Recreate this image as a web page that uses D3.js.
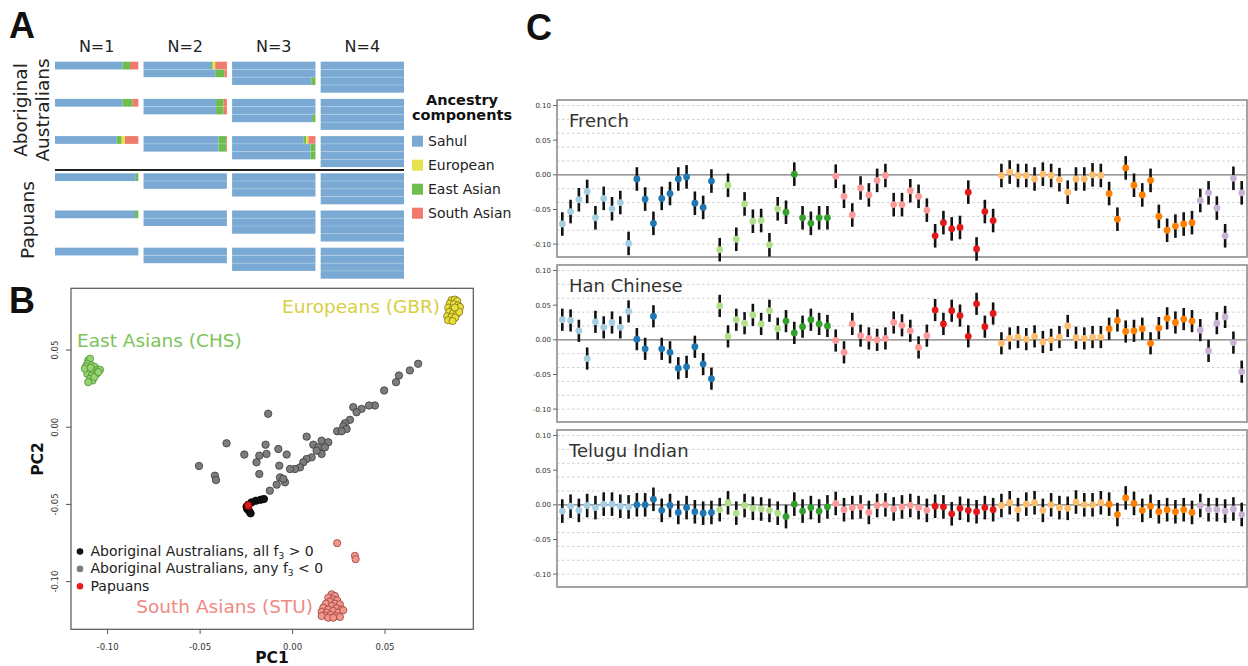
<!DOCTYPE html>
<html><head><meta charset="utf-8">
<script src="https://cdn.jsdelivr.net/npm/d3@7"></script>
<style>body{margin:0;background:#fff;} svg{display:block;font-family:"DejaVu Sans",sans-serif;}</style>
</head><body><svg id="c" width="1248" height="666"></svg>
<script>
// ---------------- Panel A data ----------------
const nLabels = ["N=1","N=2","N=3","N=4"];
const aRowNames = ["AA1","AA2","AA3","PNG1","PNG2","PNG3"];
const ancestryComponents = ["Sahul","European","East Asian","South Asian"];
const ancestryColors = ["#7aaad3","#e6e24c","#6dbe4f","#f07a6c"];
const stackOrder = [0,2,1,3];
// proportions per bar: [Sahul, European, East Asian, South Asian]
const admixAA1 = [
  [[0.81,0.00,0.09,0.10]],
  [[0.81,0.03,0.02,0.14],[0.86,0.00,0.11,0.03]],
  [[1,0,0,0],[1,0,0,0],[0.95,0,0.05,0]],
  [[1,0,0,0],[1,0,0,0],[1,0,0,0],[1,0,0,0]]
];
const admixAA2 = [
  [[0.81,0.00,0.12,0.07]],
  [[0.87,0.00,0.09,0.04],[0.87,0.00,0.09,0.04]],
  [[1,0,0,0],[1,0,0,0],[0.96,0,0.04,0]],
  [[1,0,0,0],[1,0,0,0],[1,0,0,0],[1,0,0,0]]
];
const admixAA3 = [
  [[0.74,0.04,0.06,0.16]],
  [[0.90,0.00,0.09,0.01],[0.90,0.00,0.09,0.01]],
  [[0.86,0.025,0.03,0.085],[0.94,0,0.06,0],[0.94,0,0.06,0]],
  [[1,0,0,0],[1,0,0,0],[1,0,0,0],[1,0,0,0]]
];
const admixPNG1 = [
  [[0.97,0,0.03,0]],
  [[1,0,0,0],[1,0,0,0]],
  [[1,0,0,0],[1,0,0,0],[1,0,0,0]],
  [[1,0,0,0],[1,0,0,0],[1,0,0,0],[1,0,0,0]]
];
const admixPNG2 = [
  [[0.96,0,0.04,0]],
  [[1,0,0,0],[1,0,0,0]],
  [[1,0,0,0],[1,0,0,0],[1,0,0,0]],
  [[1,0,0,0],[1,0,0,0],[1,0,0,0],[1,0,0,0]]
];
const admixPNG3 = [
  [[1,0,0,0]],
  [[1,0,0,0],[1,0,0,0]],
  [[1,0,0,0],[1,0,0,0],[1,0,0,0]],
  [[1,0,0,0],[1,0,0,0],[1,0,0,0],[1,0,0,0]]
];
const admixRows = [admixAA1, admixAA2, admixAA3, admixPNG1, admixPNG2, admixPNG3];

// ---------------- Panel B data ----------------
const grayPC1 = [0.0679,0.0634,0.0575,0.0559,0.0495,0.0445,0.0413,0.0373,0.0328,0.0346,0.0310,0.0283,0.0274,0.0292,0.0241,0.0265,0.0076,0.0157,0.0193,0.0112,0.0139,0.0175,0.0157,0.0130,0.0103,0.0076,0.0058,0.0040,0.0013,-0.0014,-0.0032,-0.0077,-0.0072,-0.0132,-0.0146,-0.0141,-0.0180,-0.0195,-0.0180,-0.0261,-0.0357,-0.0506,-0.0420,-0.0414,-0.0068,-0.0041,-0.0086,-0.0123,-0.0050];
const grayPC2 = [0.0411,0.0368,0.0335,0.0292,0.0238,0.0141,0.0141,0.0119,0.0130,0.0097,0.0048,0.0026,0.0006,-0.0011,-0.0026,-0.0026,-0.0061,-0.0087,-0.0097,-0.0113,-0.0130,-0.0130,-0.0173,-0.0152,-0.0195,-0.0206,-0.0227,-0.0260,-0.0271,-0.0271,-0.0177,-0.0141,-0.0249,0.0087,-0.0113,-0.0173,-0.0184,-0.0227,-0.0303,-0.0177,-0.0104,-0.0251,-0.0314,-0.0342,-0.0325,-0.0357,-0.0372,-0.0411,-0.0335];
const blackPC1 = [-0.0198,-0.0173,-0.0155,-0.0222,-0.0240,-0.0245,-0.0234,-0.0227,-0.0249];
const blackPC2 = [-0.0476,-0.0470,-0.0465,-0.0487,-0.0502,-0.0530,-0.0545,-0.0558,-0.0515];
const papuanPC1 = [-0.0238,-0.0240];
const papuanPC2 = [-0.0511,-0.0505];
const chsPC1 = [-0.1105,-0.1095,-0.1110,-0.1086,-0.1117,-0.1068,-0.1056,-0.1041,-0.1099,-0.1077,-0.1110,-0.1086,-0.1059,-0.1095,-0.1081,-0.1105,-0.1072,-0.1123,-0.1092,-0.1050];
const chsPC2 = [0.0433,0.0444,0.0411,0.0400,0.0394,0.0390,0.0372,0.0372,0.0368,0.0357,0.0346,0.0335,0.0346,0.0314,0.0303,0.0292,0.0325,0.0379,0.0385,0.0357];
const gbrPC1 = [0.0859,0.0877,0.0890,0.0850,0.0872,0.0895,0.0841,0.0865,0.0886,0.0905,0.0847,0.0868,0.0890,0.0836,0.0859,0.0879,0.0841,0.0865,0.0901,0.0877];
const gbrPC2 = [0.0823,0.0827,0.0818,0.0801,0.0797,0.0790,0.0775,0.0768,0.0762,0.0779,0.0747,0.0740,0.0736,0.0719,0.0714,0.0710,0.0693,0.0688,0.0747,0.0775];
const stuPC1 = [0.0211,0.0229,0.0193,0.0220,0.0241,0.0202,0.0180,0.0229,0.0256,0.0211,0.0166,0.0193,0.0238,0.0265,0.0157,0.0184,0.0220,0.0247,0.0274,0.0175,0.0205,0.0234,0.0157,0.0256,0.0193,0.0220,0.0241,0.0337,0.0341];
const stuPC2 = [-0.1082,-0.1093,-0.1104,-0.1115,-0.1121,-0.1130,-0.1143,-0.1143,-0.1147,-0.1158,-0.1169,-0.1180,-0.1173,-0.1180,-0.1195,-0.1201,-0.1190,-0.1201,-0.1186,-0.1219,-0.1216,-0.1223,-0.1223,-0.1229,-0.1234,-0.1234,-0.0751,-0.0833,-0.0855];
const bTicks = [-0.10,-0.05,0.00,0.05];
const bTickLabels = ["-0.10","-0.05","0.00","0.05"];

// ---------------- Panel C data ----------------
const cGroupSizes = [9,10,8,6,12,8,13,11,6];
const cGroupColors = ["#a6cee3","#1f78b4","#b2df8a","#33a02c","#fb9a99","#e31a1c","#fdbf6f","#ff7f00","#cab2d6"];
const cPanelNames = ["French","Han Chinese","Telugu Indian"];
const frenchF3 = [
 -0.071,-0.053,-0.036,-0.024,-0.062,-0.034,-0.049,-0.040,-0.099,
 -0.006,-0.035,-0.070,-0.034,-0.027,-0.006,-0.003,-0.041,-0.047,-0.009,
 -0.108,-0.015,-0.093,-0.042,-0.067,-0.066,-0.101,-0.049,
 -0.054,0.001,-0.062,-0.070,-0.062,-0.062,
 -0.002,-0.031,-0.058,-0.019,-0.029,-0.008,-0.001,-0.043,-0.043,-0.023,-0.031,-0.051,
 -0.088,-0.069,-0.078,-0.076,-0.025,-0.107,-0.053,-0.066,
 -0.001,0.004,-0.001,-0.001,-0.006,0.001,-0.001,-0.007,-0.025,-0.006,-0.006,0.000,-0.001,
 -0.027,-0.064,0.010,-0.015,-0.029,-0.008,-0.060,-0.080,-0.074,-0.071,-0.069,
 -0.037,-0.026,-0.048,-0.088,-0.005,-0.026];
const hanF3 = [
 0.029,0.028,0.013,-0.027,0.026,0.018,0.025,0.018,0.041,
 0.001,-0.013,0.034,-0.013,-0.018,-0.041,-0.039,-0.010,-0.035,-0.056,
 0.049,0.005,0.029,0.024,0.036,0.023,0.042,0.016,
 0.027,0.010,0.019,0.029,0.023,0.020,
 -0.001,-0.018,0.023,0.006,0.002,0.000,0.002,0.025,0.021,0.013,-0.011,0.006,
 0.043,0.023,0.042,0.035,0.005,0.052,0.019,0.038,
 -0.005,0.002,0.004,0.001,0.005,-0.003,0.000,0.004,0.020,0.003,0.002,0.004,0.004,
 0.016,0.028,0.012,0.013,0.016,-0.005,0.017,0.031,0.025,0.030,0.027,
 0.014,-0.016,0.024,0.033,-0.004,-0.046];
const teluguF3 = [
 -0.009,-0.002,-0.008,-0.001,-0.004,0.001,0.001,-0.002,-0.003,
 0.000,0.000,0.008,-0.008,-0.001,-0.011,-0.004,-0.010,-0.012,-0.011,
 -0.007,0.003,-0.012,-0.001,-0.005,-0.006,-0.008,-0.012,
 -0.017,0.001,-0.009,-0.004,-0.009,-0.003,
 0.002,-0.007,-0.004,-0.003,-0.011,-0.001,0.000,-0.006,-0.003,-0.001,-0.004,-0.008,
 -0.002,-0.003,-0.013,-0.005,-0.008,-0.010,-0.004,-0.007,
 -0.001,0.003,-0.007,0.001,0.003,-0.008,0.000,-0.004,-0.005,0.004,0.000,0.000,0.003,
 0.001,-0.014,0.010,0.002,-0.008,-0.002,-0.010,-0.007,-0.010,-0.007,-0.011,
 -0.001,-0.007,-0.007,-0.009,-0.006,-0.014];
const cErrHalf = [0.017,0.016,0.017];
const cTicks = [-0.10,-0.05,0.00,0.05,0.10];
const cTickLabels = ["-0.10","-0.05","0.00","0.05","0.10"];
const cGrid = [-0.10,-0.08,-0.06,-0.04,-0.02,0.02,0.04,0.06,0.08,0.10];

// ---------------- Drawing ----------------
const svg = d3.select("#c");
const FONT = "DejaVu Sans, sans-serif";
function letter(t,x,y){ svg.append("text").attr("x",x).attr("y",y).attr("font-family","Liberation Sans, Arial, sans-serif").attr("font-weight","bold").attr("font-size",36).attr("fill","#111").text(t); }
letter("A",9,38); letter("B",9,313); letter("C",526,40);

// ===== Panel A =====
const gA = svg.append("g");
const colX = d3.scaleBand().domain(nLabels).range([55,404]).paddingInner(0.059);
const rowY = d3.scalePoint().domain(aRowNames).range([61.7,247.7]);
const subH = 7.75;
nLabels.forEach(n=>{
  gA.append("text").attr("x",colX(n)+colX.bandwidth()/2).attr("y",52).attr("text-anchor","middle")
    .attr("font-family",FONT).attr("font-size",16).attr("fill","#222").text(n);
});
aRowNames.forEach((r,ri)=>{
  nLabels.forEach((n,ni)=>{
    const bars = admixRows[ri][ni];
    const px = d3.scaleLinear().domain([0,1]).range([colX(n), colX(n)+colX.bandwidth()]);
    bars.forEach((props,bi)=>{
      let acc = 0;
      const y0 = rowY(r) + bi*subH;
      stackOrder.forEach(ci=>{
        const v = props[ci];
        if(v>0){
          gA.append("rect").attr("x",px(acc)).attr("y",y0).attr("width",px(acc+v)-px(acc))
            .attr("height",subH).attr("fill",ancestryColors[ci]);
        }
        acc += v;
      });
      if(bi>0){
        gA.append("line").attr("x1",px(0)).attr("x2",px(1)).attr("y1",y0).attr("y2",y0)
          .attr("stroke","#fff").attr("stroke-opacity",0.35).attr("stroke-width",0.6);
      }
    });
  });
});
// separator
gA.append("line").attr("x1",55).attr("x2",404).attr("y1",170).attr("y2",170).attr("stroke","#222").attr("stroke-width",2);
// row group labels
function vlabel(t,x,y){ gA.append("text").attr("transform",`translate(${x},${y}) rotate(-90)`).attr("text-anchor","middle")
  .attr("font-family",FONT).attr("font-size",18.5).attr("fill","#222").text(t); }
vlabel("Aboriginal",27,110); vlabel("Australians",48.5,110); vlabel("Papuans",33.5,220);
// legend
gA.append("text").attr("x",462).attr("y",105).attr("text-anchor","middle").attr("font-family",FONT).attr("font-weight","bold").attr("font-size",14.5).attr("fill","#111").text("Ancestry");
gA.append("text").attr("x",462).attr("y",119.5).attr("text-anchor","middle").attr("font-family",FONT).attr("font-weight","bold").attr("font-size",14.5).attr("fill","#111").text("components");
const legY = d3.scalePoint().domain(ancestryComponents).range([135.7,207.7]);
ancestryComponents.forEach((c,i)=>{
  gA.append("rect").attr("x",412).attr("y",legY(c)).attr("width",11).attr("height",11).attr("fill",ancestryColors[i]);
  gA.append("text").attr("x",428).attr("y",legY(c)+10.5).attr("font-family",FONT).attr("font-size",14).attr("fill","#222").text(c);
});

// ===== Panel B =====
const gB = svg.append("g");
const bx = d3.scaleLinear().domain([-0.1198,0.0977]).range([71,473.3]);
const by = d3.scaleLinear().domain([-0.1309,0.0900]).range([629.3,288.3]);
gB.append("rect").attr("x",71).attr("y",288.3).attr("width",402.3).attr("height",341).attr("fill","none").attr("stroke","#555").attr("stroke-width",1.2);
bTicks.forEach((t,i)=>{
  gB.append("line").attr("x1",bx(t)).attr("x2",bx(t)).attr("y1",629.3).attr("y2",634).attr("stroke","#555");
  gB.append("text").attr("x",bx(t)).attr("y",650).attr("text-anchor","middle").attr("font-family",FONT).attr("font-size",8.5).attr("fill","#333").text(bTickLabels[i]);
  gB.append("line").attr("x1",66).attr("x2",71).attr("y1",by(t)).attr("y2",by(t)).attr("stroke","#555");
  gB.append("text").attr("transform",`translate(58,${by(t)}) rotate(-90)`).attr("text-anchor","middle").attr("font-family",FONT).attr("font-size",8.5).attr("fill","#333").text(bTickLabels[i]);
});
gB.append("text").attr("x",272).attr("y",663).attr("text-anchor","middle").attr("font-family",FONT).attr("font-weight","bold").attr("font-size",15.5).attr("fill","#111").text("PC1");
gB.append("text").attr("transform","translate(43,459) rotate(-90)").attr("text-anchor","middle").attr("font-family",FONT).attr("font-weight","bold").attr("font-size",15.5).attr("fill","#111").text("PC2");
function pts(xs,ys,fill,stroke,r){
  xs.forEach((x,i)=>{
    gB.append("circle").attr("cx",bx(x)).attr("cy",by(ys[i])).attr("r",r).attr("fill",fill).attr("stroke",stroke).attr("stroke-width",0.8);
  });
}
pts(grayPC1,grayPC2,"#7d7d7d","#3a3a3a",3.7);
pts(chsPC1,chsPC2,"#97d470","#4b8f32",3.6);
pts(gbrPC1,gbrPC2,"#eadf3c","#7d7212",3.6);
pts(stuPC1,stuPC2,"#f2958c","#9b3f3a",3.6);
pts(blackPC1,blackPC2,"#111","#000",3.7);
pts(papuanPC1,papuanPC2,"#e41a1c","#7a0c0c",3.6);
gB.append("text").attr("x",440).attr("y",313).attr("text-anchor","end").attr("font-family",FONT).attr("font-size",18.5).attr("fill","#d8cf3e").text("Europeans (GBR)");
gB.append("text").attr("x",77).attr("y",347).attr("font-family",FONT).attr("font-size",18.5).attr("fill","#7cc45a").text("East Asians (CHS)");
gB.append("text").attr("x",313).attr("y",613).attr("text-anchor","end").attr("font-family",FONT).attr("font-size",18.5).attr("fill","#ef8a82").text("South Asians (STU)");
const bLegend = [["Aboriginal Australians, all f","3"," > 0","#111"],["Aboriginal Australians, any f","3"," < 0","#7d7d7d"],["Papuans","","","#e41a1c"]];
bLegend.forEach((d,i)=>{
  const yb = 556 + i*17.4;
  gB.append("circle").attr("cx",80).attr("cy",yb-4.5).attr("r",3.3).attr("fill",d[3]);
  const t = gB.append("text").attr("x",90.5).attr("y",yb).attr("font-family",FONT).attr("font-size",14).attr("fill","#222");
  t.append("tspan").text(d[0]);
  if(d[1]){
    t.append("tspan").attr("font-size",9).attr("dy",3).text(d[1]);
    t.append("tspan").attr("dy",-3).text(d[2]);
  }
});

// ===== Panel C =====
const gC = svg.append("g");
const cSeries = [frenchF3, hanF3, teluguF3];
const cTops = [100,265,430];
const cH = 157;
const nPts = frenchF3.length;
const cx = d3.scalePoint().domain(d3.range(nPts)).range([562.3,1241.7]);
const groupOf = [];
cGroupSizes.forEach((s,g)=>{ for(let k=0;k<s;k++) groupOf.push(g); });
cSeries.forEach((vals,pi)=>{
  const top = cTops[pi];
  const cy = d3.scaleLinear().domain([-0.1186,0.108]).range([top+cH, top]);
  const g = gC.append("g");
  cGrid.forEach(v=>{
    g.append("line").attr("x1",557).attr("x2",1247).attr("y1",cy(v)).attr("y2",cy(v)).attr("stroke","#c8c8c8").attr("stroke-width",0.9).attr("stroke-dasharray","2.5,2.5");
  });
  g.append("line").attr("x1",557).attr("x2",1247).attr("y1",cy(0)).attr("y2",cy(0)).attr("stroke","#7a7a7a").attr("stroke-width",1.3);
  g.append("rect").attr("x",557).attr("y",top).attr("width",690).attr("height",cH).attr("fill","none").attr("stroke","#9a9a9a").attr("stroke-width",1.8);
  cTicks.forEach((t,i)=>{
    g.append("line").attr("x1",553).attr("x2",557).attr("y1",cy(t)).attr("y2",cy(t)).attr("stroke","#666");
    g.append("text").attr("x",551).attr("y",cy(t)+2.5).attr("text-anchor","end").attr("font-family",FONT).attr("font-size",7).attr("fill","#333").text(cTickLabels[i]);
  });
  g.append("text").attr("x",569).attr("y",top+27).attr("font-family",FONT).attr("font-size",18).attr("fill","#333").text(cPanelNames[pi]);
  const e = cErrHalf[pi];
  vals.forEach((v,i)=>{
    g.append("line").attr("x1",cx(i)).attr("x2",cx(i)).attr("y1",cy(v-e)).attr("y2",cy(v+e)).attr("stroke","#111").attr("stroke-width",2.6);
  });
  vals.forEach((v,i)=>{
    g.append("circle").attr("cx",cx(i)).attr("cy",cy(v)).attr("r",3.4).attr("fill",cGroupColors[groupOf[i]]);
  });
});
</script></body></html>
